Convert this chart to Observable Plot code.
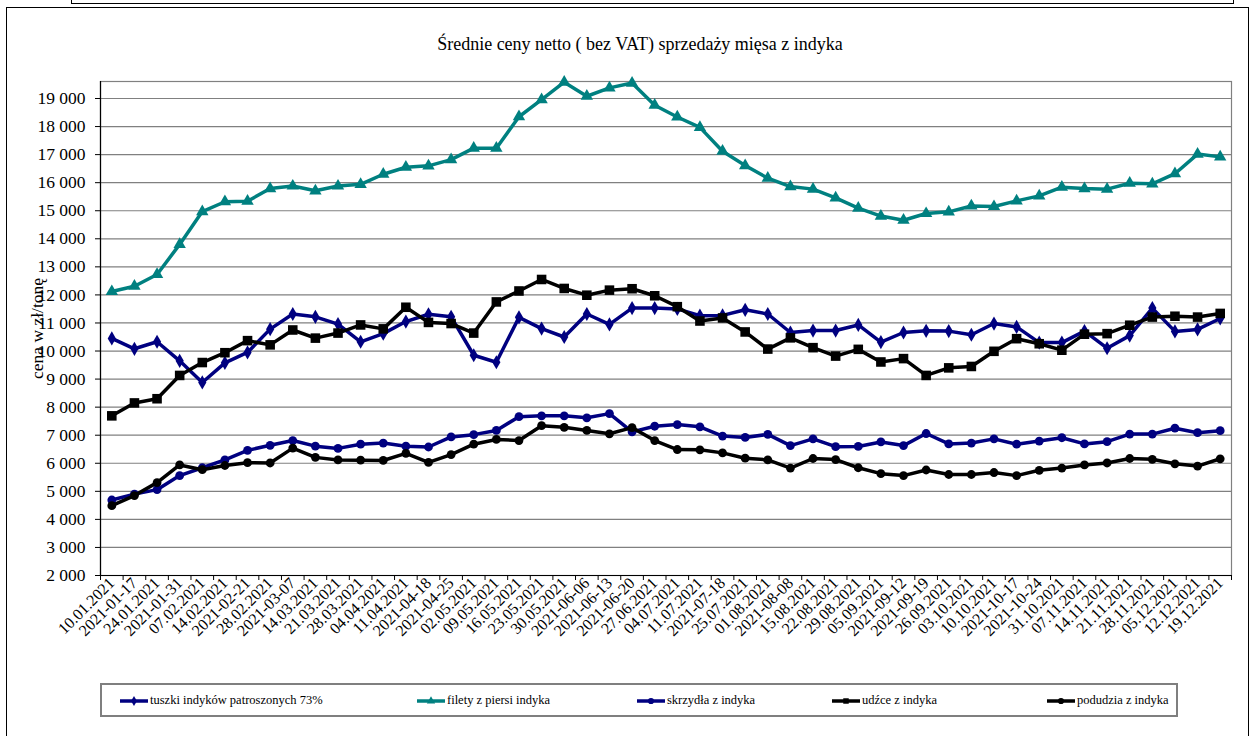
<!DOCTYPE html>
<html>
<head>
<meta charset="utf-8">
<script src="https://cdn.jsdelivr.net/npm/d3@7"></script>
<script src="https://cdn.jsdelivr.net/npm/@observablehq/plot@0.6"></script>
<style>
  html, body { margin: 0; padding: 0; background: #fff; }
  #page { position: relative; width: 1250px; height: 736px; overflow: hidden; font-family: 'Liberation Serif', 'DejaVu Serif', serif; }
  #chart { position: absolute; left: 0; top: 0; }
  #chart svg, #chart svg text { font-family: 'Liberation Serif', 'DejaVu Serif', serif !important; }
  .frame { position: absolute; border: 0 solid #000; }
  #title { position: absolute; top: 34px; left: 0; width: 1280px; text-align: center; font-size: 18px; color: #000; }
  #legend { position: absolute; left: 100px; top: 683px; width: 1078px; height: 34px; border: 2px solid #7f7f7f; box-sizing: border-box; }
  .li { position: absolute; top: 8px; font-size: 12.5px; white-space: nowrap; display: flex; align-items: center; }
  .li svg { margin-right: 2px; }
</style>
</head>
<body>
<div id="page">
  <div id="chart"></div>
  <div class="frame" style="left:6px; top:7px; width:1241px; height:740px; border-width:1.5px 1.5px 0 1.5px;"></div>
  <div class="frame" style="left:71px; top:-2px; width:1161px; height:5px; border-width:0 1.5px 1.5px 1.5px;"></div>
  <div id="title">Średnie ceny netto ( bez VAT) sprzedaży mięsa z indyka</div>
  <div id="legend"></div>
</div>
<script>
const dates = ["10.01.2021","2021-01-17","24.01.2021","2021-01-31","07.02.2021","14.02.2021","2021-02-21","28.02.2021","2021-03-07","14.03.2021","21.03.2021","28.03.2021","04.04.2021","11.04.2021","2021-04-18","2021-04-25","02.05.2021","09.05.2021","16.05.2021","23.05.2021","30.05.2021","2021-06-06","2021-06-13","2021-06-20","27.06.2021","04.07.2021","11.07.2021","2021-07-18","25.07.2021","01.08.2021","2021-08-08","15.08.2021","22.08.2021","29.08.2021","05.09.2021","2021-09-12","2021-09-19","26.09.2021","03.10.2021","10.10.2021","2021-10-17","2021-10-24","31.10.2021","07.11.2021","14.11.2021","21.11.2021","28.11.2021","05.12.2021","12.12.2021","19.12.2021"];

const tuszki = [10450,10080,10330,9650,8880,9580,9950,10780,11320,11220,10960,10330,10620,11050,11310,11220,9850,9600,11200,10800,10500,11320,10950,11530,11530,11500,11260,11270,11470,11320,10660,10730,10730,10930,10320,10660,10720,10710,10580,10980,10860,10300,10300,10710,10100,10550,11530,10700,10770,11160];
const filety = [12120,12310,12730,13800,14970,15320,15340,15790,15880,15710,15880,15940,16300,16550,16600,16820,17230,17230,18350,18960,19580,19080,19380,19550,18760,18340,17970,17120,16610,16160,15860,15770,15460,15090,14810,14660,14900,14960,15170,15150,15350,15530,15840,15790,15770,15980,15960,16320,17020,16920];
const skrzydla = [4690,4900,5060,5560,5840,6120,6460,6640,6810,6610,6530,6680,6720,6610,6580,6940,7020,7170,7660,7690,7690,7620,7770,7120,7320,7380,7300,6970,6920,7030,6630,6870,6590,6600,6760,6630,7060,6690,6720,6870,6680,6790,6910,6690,6770,7040,7040,7250,7090,7160];
const udzce = [7690,8150,8300,9130,9590,9940,10370,10220,10750,10460,10640,10930,10790,11560,11020,10980,10640,11750,12140,12550,12230,11990,12170,12220,11970,11580,11070,11180,10680,10070,10470,10120,9820,10060,9610,9730,9130,9400,9450,9990,10440,10260,10030,10600,10620,10920,11210,11240,11210,11340];
const podudzia = [4490,4850,5310,5940,5770,5920,6020,6010,6540,6210,6120,6110,6100,6350,6030,6310,6680,6850,6810,7340,7280,7170,7050,7270,6810,6490,6480,6370,6180,6120,5830,6170,6130,5840,5630,5560,5760,5600,5600,5670,5560,5750,5830,5940,6010,6170,6140,5980,5900,6160];

const yTicks = [2000,3000,4000,5000,6000,7000,8000,9000,10000,11000,12000,13000,14000,15000,16000,17000,18000,19000];
const yTickLabels = ["2 000","3 000","4 000","5 000","6 000","7 000","8 000","9 000","10 000","11 000","12 000","13 000","14 000","15 000","16 000","17 000","18 000","19 000"];

const seriesNames = ["tuszki indyków patroszonych 73%","filety z piersi indyka","skrzydła z indyka","udźce z indyka","podudzia z indyka"];
const seriesValues = [tuszki, filety, skrzydla, udzce, podudzia];
const seriesColors = ["#000080","#008080","#000080","#000000","#000000"];
const seriesSymbols = ["diamond","triangle","circle","square","circle"];
const seriesR = [4.3,4.6,4.4,5.4,4.4];

const idx = dates.map((d, i) => i);
const bounds = d3.range(0, dates.length + 1).map(i => i - 0.5);
const rows = seriesNames.map((name, s) => seriesValues[s].map((v, i) => ({i, v, name})));

const marks = [
  Plot.gridY(yTicks, {stroke: "#808080", strokeOpacity: 1, strokeWidth: 1.2}),
  Plot.frame({stroke: "#808080", strokeWidth: 1.2}),
  Plot.ruleX([-0.5], {stroke: "#000", strokeWidth: 1.2}),
  Plot.ruleY([2000], {stroke: "#000", strokeWidth: 1.2}),
  Plot.axisY({ticks: yTicks, tickSize: 5, tickPadding: 10, tickFormat: d => yTickLabels[yTicks.indexOf(d)], fontSize: 17.5,
              label: "cena w zł/tonę", labelAnchor: "center", labelArrow: "none", labelOffset: 70}),
  Plot.axisX({ticks: bounds, tickSize: 5, tickFormat: () => "", label: null}),
  Plot.axisX({ticks: idx, tickSize: 0, tickPadding: 5, tickRotate: -45, tickFormat: i => dates[i], fontSize: 16, label: null})
];
rows.forEach((data, s) => {
  marks.push(Plot.line(data, {x: "i", y: "v", stroke: seriesColors[s], strokeWidth: 3.5}));
  marks.push(Plot.dot(data, {x: "i", y: "v", fill: seriesColors[s], stroke: "none", symbol: seriesSymbols[s], r: seriesR[s]}));
});

const chart = Plot.plot({
  width: 1250,
  height: 670,
  marginLeft: 100,
  marginRight: 19,
  marginTop: 81,
  marginBottom: 95,
  style: {fontFamily: "'Liberation Serif', 'DejaVu Serif', serif", fontSize: "17px", color: "#000", background: "transparent", overflow: "visible"},
  x: {type: "linear", domain: [-0.5, dates.length - 0.5]},
  y: {type: "linear", domain: [2000, 19606]},
  marks
});
document.getElementById("chart").appendChild(chart);

// legend
const legendX = [18, 315, 535, 730, 945];
const legend = document.getElementById("legend");
seriesNames.forEach((name, s) => {
  const item = document.createElement("div");
  item.className = "li";
  item.style.left = legendX[s] + "px";
  const sw = d3.create("svg").attr("width", 28).attr("height", 12);
  sw.append("line").attr("x1", 0).attr("x2", 28).attr("y1", 6).attr("y2", 6).attr("stroke", seriesColors[s]).attr("stroke-width", 3.5);
  const sym = {diamond: d3.symbolDiamond, triangle: d3.symbolTriangle, circle: d3.symbolCircle, square: d3.symbolSquare}[seriesSymbols[s]];
  sw.append("path").attr("transform", "translate(14,6)").attr("d", d3.symbol(sym, 30)()).attr("fill", seriesColors[s]);
  item.appendChild(sw.node());
  const t = document.createElement("span");
  t.textContent = name;
  item.appendChild(t);
  legend.appendChild(item);
});
</script>
</body>
</html>
